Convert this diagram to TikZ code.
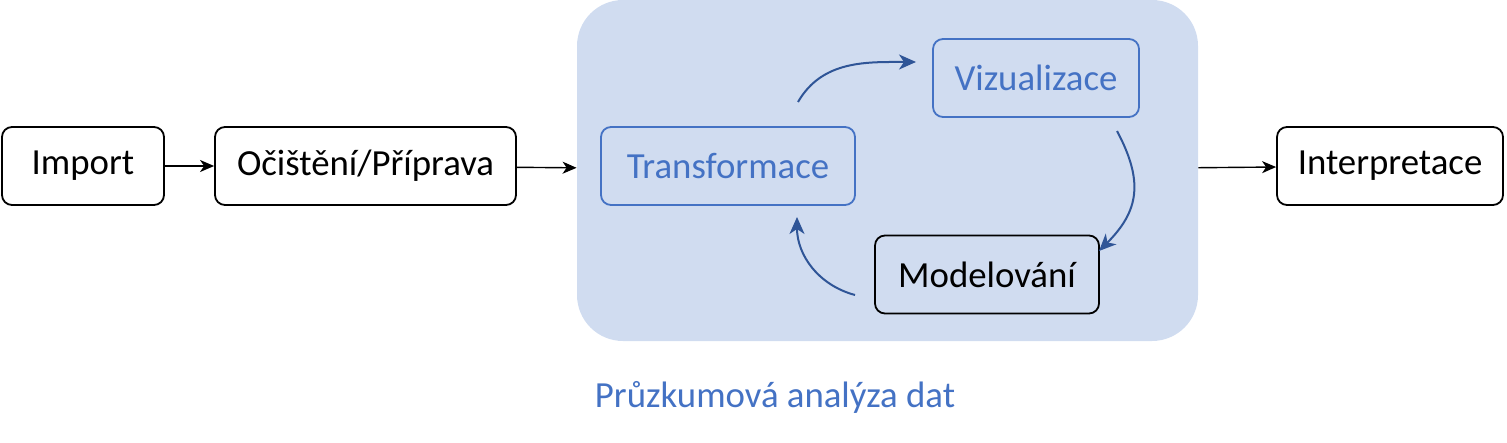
\documentclass[tikz,border=0pt]{standalone}
\usepackage{fontspec}
\setmainfont{Carlito}
\usepackage{xcolor}
\usetikzlibrary{arrows.meta}
\definecolor{edablue}{HTML}{4472C4}
\definecolor{edafill}{HTML}{D0DCF0}
\definecolor{loopblue}{HTML}{2F5597}
\tikzset{edge/.style = {-{Stealth[length=7pt,width=6pt,inset=2pt]}, line width=0.7pt}}

\begin{document}
\begin{tikzpicture}[x=0.5pt,y=-0.5pt,font=\fontsize{18.4}{22}\selectfont,
    main node/.style={draw,rounded corners=5pt,line width=0.9pt,inner sep=0pt,minimum height=39pt},
    eda node/.style={main node,draw=edablue,text=edablue},
    loop edge/.style={-{Stealth[length=8.5pt,width=7.5pt,inset=2.5pt]},loopblue,line width=1pt}]
                \useasboundingbox (0,0) rectangle (1507,443);
                \node[fill=edafill,rounded corners=23pt,inner sep=0pt,minimum width=310.5pt,minimum height=170.5pt] (3) at (887.5,170.5) {};

                \node[main node,minimum width=81pt] (1) at (83,166) {Import};
                \node[main node,minimum width=150.5pt] (2) at (365.5,166) {Očištění/Příprava};
                \node[eda node,minimum width=127pt] (4) at (728,166) {Transformace};
                \node[eda node,minimum width=103pt] (5) at (1036,78) {Vizualizace};
                \node[main node,minimum width=112pt] (6) at (987,274.5) {Modelování};
                \node[main node,minimum width=113pt] (7) at (1390,166) {Interpretace};
                \node[text=edablue] (8) at (775,397) {Průzkumová analýza dat};

                \coordinate (a1) at (798,102);
                \coordinate (a2) at (916,62);
                \coordinate (b1) at (1117,131);
                \coordinate (b2) at (1099,251);
                \coordinate (c1) at (855,295);
                \coordinate (c2) at (797,217);

                \path[edge] (1) edge[] node {} (2);
                \path[edge] (2) edge[] node {} (3);
                \path[edge] (3) edge[] node {} (7);
                \path[loop edge] (a1) edge[out=60,in=180] node {} (a2);
                \path[loop edge] (b1) edge[out=-62,in=45,looseness=1.2] node {} (b2);
                \path[loop edge] (c1) edge[out=165,in=-90] node {} (c2);
            \end{tikzpicture}
\end{document}
